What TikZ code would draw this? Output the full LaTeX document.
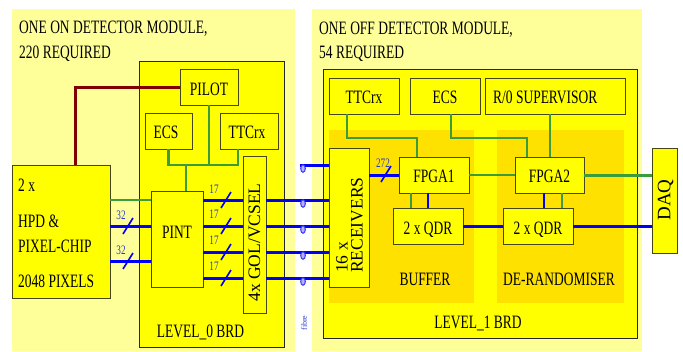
\documentclass[tikz,border=0pt]{standalone}
\usepackage{fontspec}
\setmainfont{Liberation Serif}
\definecolor{panelyel}{RGB}{255,255,153}
\definecolor{boardyel}{RGB}{255,255,0}
\definecolor{goldyel}{RGB}{255,225,0}
\definecolor{lgreen}{RGB}{60,155,60}
\definecolor{lblue}{RGB}{0,0,250}
\definecolor{lred}{RGB}{128,0,0}
\definecolor{edge}{RGB}{70,70,20}
\definecolor{lablue}{RGB}{40,60,200}
\newcommand{\tx}[1]{\scalebox{0.77}[1.08]{#1}}
\tikzset{
  panel/.style={fill=panelyel, draw=none, inner sep=0pt, outer sep=0pt},
  board/.style={fill=boardyel, draw=black!85, line width=1pt, inner sep=0pt, outer sep=0pt},
  goldreg/.style={fill=goldyel, draw=none, inner sep=0pt, outer sep=0pt},
  box/.style={fill=boardyel, draw=edge, line width=0.8pt, inner sep=0pt, outer sep=0pt},
  txt/.style={inner sep=0pt, anchor=base, font=\fontsize{17.5}{20}\selectfont},
  rtxt/.style={inner sep=0pt, rotate=90, font=\fontsize{17.5}{20}\selectfont},
  small/.style={inner sep=0pt, text=lablue, font=\fontsize{12}{13}\selectfont},
  gline/.style={draw=lgreen, line width=2.7pt},
  gthin/.style={draw=lgreen, line width=1.6pt},
  bline/.style={draw=lblue, line width=3pt},
  bthin/.style={draw=lblue, line width=2pt},
  rline/.style={draw=lred, line width=3pt},
  slash/.style={draw=lblue, line width=1.6pt},
  fibicon/.style={draw=lblue!80, fill=lblue!30, line width=1pt}
}
\begin{document}
\begin{tikzpicture}[x=1pt,y=-1pt]
\useasboundingbox (0,0) rectangle (683,351);
% panels
\node[panel, minimum width=283pt, minimum height=342pt] (lpanel) at (153.5,180) {};
\node[panel, minimum width=330pt, minimum height=342pt] (rpanel) at (477,180) {};
% boards
\node[board, minimum width=145pt, minimum height=286pt] (lboard) at (211.5,204) {};
\node[board, minimum width=314pt, minimum height=269pt] (rboard) at (480,203.5) {};
\node[goldreg, minimum width=145pt, minimum height=173pt] (gold1) at (401.5,216.5) {};
\node[goldreg, minimum width=127pt, minimum height=173pt] (gold2) at (560.5,216.5) {};
% headings
\node[txt, anchor=base west] (h1) at (19,33) {\tx{ONE ON DETECTOR MODULE,}};
\node[txt, anchor=base west] (h2) at (19,58) {\tx{220 REQUIRED}};
\node[txt, anchor=base west] (h3) at (319,34) {\tx{ONE OFF DETECTOR MODULE,}};
\node[txt, anchor=base west] (h4) at (319,58) {\tx{54 REQUIRED}};
% left boxes
\node[box, minimum width=58pt, minimum height=36pt] (pilot) at (209,87) {};
\node[box, minimum width=47pt, minimum height=36pt] (ecs0) at (168.5,131) {};
\node[box, minimum width=58pt, minimum height=36pt] (ttc0) at (249,131) {};
\node[box, minimum width=23pt, minimum height=157pt] (gol) at (254.5,234.5) {};
\node[box, minimum width=98pt, minimum height=133pt] (hpd) at (61,231.5) {};
\node[box, minimum width=52pt, minimum height=96pt] (pint) at (177,239) {};
% right boxes
\node[box, minimum width=70pt, minimum height=36pt] (ttc1) at (364,96) {};
\node[box, minimum width=70pt, minimum height=36pt] (ecs1) at (445,96) {};
\node[box, minimum width=140pt, minimum height=36pt] (ro) at (555,96) {};
\node[box, minimum width=40pt, minimum height=139pt] (rec) at (349,217.5) {};
\node[box, minimum width=70pt, minimum height=36pt] (fpga1) at (434,175) {};
\node[box, minimum width=69pt, minimum height=36pt] (fpga2) at (549.5,175) {};
\node[box, minimum width=70pt, minimum height=36pt] (qdr1) at (428,226) {};
\node[box, minimum width=70pt, minimum height=36pt] (qdr2) at (538,226) {};
\node[box, minimum width=25pt, minimum height=105pt] (daq) at (664.5,200.5) {};
% texts
\node[txt] (tpilot) at (209,95) {\tx{PILOT}};
\node[txt] (tecs0) at (166,138) {\tx{ECS}};
\node[txt] (tttc0) at (247,138) {\tx{TTCrx}};
\node[txt, anchor=base west] (thpd1) at (18,191) {\tx{2 x}};
\node[txt, anchor=base west] (thpd2) at (18,227) {\tx{HPD \&}};
\node[txt, anchor=base west] (thpd3) at (18,252) {\tx{PIXEL-CHIP}};
\node[txt, anchor=base west] (thpd4) at (18,287) {\tx{2048 PIXELS}};
\node[txt] (tpint) at (177,238) {\tx{PINT}};
\node[txt] (tl0) at (200.5,337) {\tx{LEVEL\_0 BRD}};
\node[rtxt] (tgol) at (254.5,242.5) {4x GOL/VCSEL};
\node[txt] (tttc1) at (364,103) {\tx{TTCrx}};
\node[txt] (tecs1) at (445,103) {\tx{ECS}};
\node[txt, anchor=base west] (tro) at (493,103) {\tx{R/0 SUPERVISOR}};
\node[txt] (tf1) at (434,182) {\tx{FPGA1}};
\node[txt] (tf2) at (549.5,182) {\tx{FPGA2}};
\node[txt] (tq1) at (428,234) {\tx{2 x QDR}};
\node[txt] (tq2) at (538,234) {\tx{2 x QDR}};
\node[txt] (tbuf) at (425,285) {\tx{BUFFER}};
\node[txt] (tder) at (559,285) {\tx{DE-RANDOMISER}};
\node[txt] (tl1) at (478,328) {\tx{LEVEL\_1 BRD}};
\node[rtxt, anchor=west] (trec1) at (342,273) {16 x};
\node[rtxt, anchor=west] (trec2) at (357,273) {RECEIVERS};
\node[rtxt, font=\fontsize{19}{21}\selectfont] (tdaq) at (665.5,200) {DAQ};
\node[inner sep=0pt, rotate=90, text=lablue, font=\fontsize{8}{9}\selectfont] (tfib) at (304,323) {fibre};
% row coordinates
\coordinate (gbus) at (0,165);
\coordinate (gr) at (0,138);
\coordinate (redx) at (75,0);
\coordinate (y1) at (0,200);
\coordinate (y2) at (0,226);
\coordinate (y3) at (0,252);
\coordinate (y4) at (0,278);
\coordinate (ya) at (0,226);
\coordinate (yb) at (0,261);
\coordinate (fib0) at (300,165);
% left connectors
\draw[rline] (pilot.west) -| (hpd.north -| redx);
\draw[gline] (ecs0.south) |- ([xshift=-11pt]ttc0.south |- gbus) -- ([xshift=-11pt]ttc0.south);
\draw[gline] (pilot.south) -- (pilot.south |- gbus);
\draw[gline] ([xshift=9pt]pint.north |- gbus) -- ([xshift=9pt]pint.north);
\draw[gline] (hpd.east |- y1) -- (pint.west |- y1);
\draw[bline] (hpd.east |- ya) -- (pint.west |- ya);
\draw[bline] (hpd.east |- yb) -- (pint.west |- yb);
\foreach \r in {y1,y2,y3,y4}{
  \draw[bline] (pint.east |- \r) -- (gol.west |- \r);
  \draw[bline] (gol.east |- \r) -- (rec.west |- \r);
}
\draw[bline] (fib0) -- (rec.west |- fib0);
% fibre connector icons
\foreach \yy in {165,200,226,252,278}{
  \draw[fibicon] (303,\yy+3.5) ellipse [x radius=2.3pt, y radius=3.8pt];
}
% slashes and labels
\foreach \cx/\cy in {128/226,128/261,226/200,226/226,226/252,226/278,386/174}{
  \draw[slash] ([shift={(-5,8)}]\cx,\cy) -- ([shift={(5,-8)}]\cx,\cy);
}
\node[small] (l32a) at (121,215) {\tx{32}};
\node[small] (l32b) at (121,250) {\tx{32}};
\node[small] (l17a) at (214,189) {\tx{17}};
\node[small] (l17b) at (214,214) {\tx{17}};
\node[small] (l17c) at (214,240) {\tx{17}};
\node[small] (l17d) at (214,266) {\tx{17}};
% right connectors
\draw[gline] ([xshift=-17pt]ttc1.south) |- ([xshift=-17pt]fpga1.north |- gr) -- ([xshift=-17pt]fpga1.north);
\draw[gline] ([xshift=6pt]ecs1.south) |- ([xshift=-22.5pt]fpga2.north |- gr) -- ([xshift=-22.5pt]fpga2.north);
\draw[gline] ([xshift=-5pt]ro.south) -- ([xshift=-5pt]ro.south |- fpga2.north);
\draw[gline] (fpga1.east) -- (fpga2.west);
\draw[gline, line width=3pt] (fpga2.east) -- (fpga2.east -| daq.west);
\draw[bline] (fpga1.west -| rec.east) -- (fpga1.west);
\draw[gthin] ([xshift=-23pt]fpga1.south) -- ([xshift=-23pt]fpga1.south |- qdr1.north);
\draw[bthin] ([xshift=-6pt]fpga1.south) -- ([xshift=-6pt]fpga1.south |- qdr1.north);
\draw[bthin] ([xshift=-5.5pt]fpga2.south) -- ([xshift=-5.5pt]fpga2.south |- qdr2.north);
\draw[gthin] ([xshift=12.5pt]fpga2.south) -- ([xshift=12.5pt]fpga2.south |- qdr2.north);
\draw[bline] (qdr1.east) -- (qdr2.west);
\draw[bline] (qdr2.east) -- (qdr2.east -| daq.west);
\node[small] (l272) at (383,163) {\tx{272}};
\end{tikzpicture}
\end{document}
